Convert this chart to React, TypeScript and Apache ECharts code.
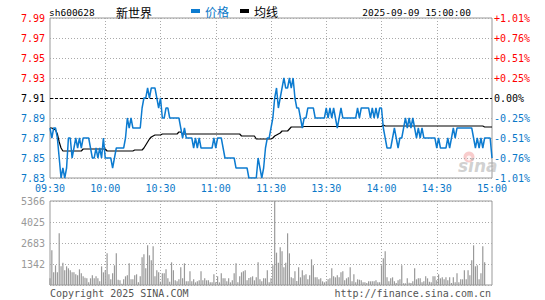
import React, { useEffect, useRef } from 'react';
import * as echarts from 'echarts';

const STOCK_CODE = 'sh600628';
const STOCK_NAME = '新世界';
const DATE_TEXT = '2025-09-09 15:00:00';
const PREV_CLOSE = 7.91;
const X_TICK_LABELS = ['09:30', '10:00', '10:30', '11:00', '11:30', '13:30', '14:00', '14:30', '15:00'];
const VOL_MAX = 5366;

// minute categories: 09:30..11:30, 13:01..15:00
const TIMES: string[] = [];
for (let m = 9 * 60 + 30; m <= 11 * 60 + 30; m++) TIMES.push(`${String(Math.floor(m / 60)).padStart(2, '0')}:${String(m % 60).padStart(2, '0')}`);
for (let m = 13 * 60 + 1; m <= 15 * 60; m++) TIMES.push(`${String(Math.floor(m / 60)).padStart(2, '0')}:${String(m % 60).padStart(2, '0')}`);

const PRICE = [
  7.88, 7.87, 7.88, 7.88, 7.87, 7.85, 7.83, 7.84, 7.83, 7.84,
  7.87, 7.87, 7.85, 7.86, 7.87, 7.86, 7.87, 7.86, 7.87, 7.87,
  7.87, 7.87, 7.86, 7.85, 7.85, 7.86, 7.85, 7.86, 7.85, 7.87,
  7.85, 7.85, 7.85, 7.85, 7.84, 7.85, 7.86, 7.86, 7.86, 7.86,
  7.86, 7.87, 7.89, 7.88, 7.89, 7.88, 7.88, 7.88, 7.88, 7.88,
  7.90, 7.91, 7.91, 7.92, 7.91, 7.92, 7.92, 7.92, 7.91, 7.90,
  7.91, 7.89, 7.89, 7.90, 7.90, 7.89, 7.89, 7.89, 7.89, 7.89,
  7.89, 7.88, 7.87, 7.88, 7.87, 7.87, 7.87, 7.87, 7.86, 7.87,
  7.86, 7.87, 7.86, 7.86, 7.86, 7.86, 7.86, 7.86, 7.86, 7.87,
  7.86, 7.87, 7.87, 7.87, 7.86, 7.85, 7.85, 7.85, 7.85, 7.85,
  7.85, 7.84, 7.84, 7.84, 7.84, 7.84, 7.84, 7.84, 7.83, 7.83,
  7.83, 7.83, 7.83, 7.85, 7.84, 7.83, 7.84, 7.86, 7.87, 7.87,
  7.88, 7.89, 7.91, 7.92, 7.90, 7.91, 7.92, 7.93, 7.92, 7.92,
  7.93, 7.92, 7.93, 7.91, 7.90, 7.90, 7.89, 7.88, 7.89, 7.89,
  7.90, 7.90, 7.90, 7.90, 7.89, 7.89, 7.89, 7.89, 7.89, 7.89,
  7.90, 7.89, 7.90, 7.89, 7.90, 7.89, 7.88, 7.89, 7.90, 7.89,
  7.89, 7.89, 7.89, 7.89, 7.89, 7.89, 7.89, 7.90, 7.89, 7.90,
  7.90, 7.90, 7.90, 7.90, 7.89, 7.90, 7.89, 7.90, 7.89, 7.90,
  7.90, 7.88, 7.87, 7.86, 7.86, 7.86, 7.87, 7.88, 7.87, 7.86,
  7.87, 7.87, 7.88, 7.89, 7.88, 7.89, 7.88, 7.89, 7.88, 7.87,
  7.88, 7.87, 7.88, 7.87, 7.87, 7.87, 7.87, 7.87, 7.87, 7.87,
  7.86, 7.87, 7.86, 7.86, 7.86, 7.86, 7.87, 7.86, 7.87, 7.88,
  7.87, 7.88, 7.88, 7.88, 7.88, 7.88, 7.88, 7.88, 7.88, 7.88,
  7.87, 7.86, 7.87, 7.86, 7.87, 7.86, 7.87, 7.87, 7.87, 7.87,
  7.85,
];

const AVG = [
  7.880, 7.880, 7.879, 7.878, 7.874, 7.866, 7.860, 7.857, 7.857, 7.857,
  7.857, 7.857, 7.857, 7.857, 7.857, 7.857, 7.857, 7.857, 7.859, 7.859,
  7.859, 7.859, 7.859, 7.859, 7.859, 7.859, 7.859, 7.859, 7.859, 7.859,
  7.859, 7.857, 7.857, 7.857, 7.857, 7.857, 7.857, 7.857, 7.857, 7.857,
  7.857, 7.857, 7.857, 7.857, 7.857, 7.857, 7.858, 7.858, 7.858, 7.858,
  7.858, 7.860, 7.863, 7.866, 7.869, 7.871, 7.872, 7.873, 7.873, 7.873,
  7.873, 7.874, 7.874, 7.874, 7.874, 7.874, 7.874, 7.874, 7.874, 7.874,
  7.876, 7.876, 7.874, 7.874, 7.874, 7.874, 7.874, 7.874, 7.874, 7.874,
  7.874, 7.874, 7.874, 7.874, 7.874, 7.874, 7.874, 7.874, 7.874, 7.874,
  7.874, 7.874, 7.874, 7.874, 7.874, 7.874, 7.874, 7.874, 7.874, 7.874,
  7.874, 7.874, 7.874, 7.874, 7.872, 7.872, 7.872, 7.872, 7.872, 7.872,
  7.872, 7.872, 7.869, 7.869, 7.869, 7.869, 7.869, 7.869, 7.869, 7.869,
  7.869, 7.870, 7.872, 7.873, 7.874, 7.875, 7.877, 7.877, 7.877, 7.877,
  7.879, 7.881, 7.881, 7.881, 7.881, 7.881, 7.881, 7.881, 7.8815, 7.8815,
  7.8815, 7.8815, 7.8815, 7.8815, 7.8815, 7.8815, 7.8815, 7.8815, 7.8815, 7.8815,
  7.8815, 7.8815, 7.8815, 7.8815, 7.8815, 7.8815, 7.8815, 7.8815, 7.8815, 7.8815,
  7.8815, 7.8815, 7.8815, 7.8815, 7.8815, 7.8815, 7.8815, 7.8815, 7.8815, 7.8815,
  7.8815, 7.8815, 7.8815, 7.8815, 7.8815, 7.8815, 7.8815, 7.8815, 7.8815, 7.8815,
  7.8815, 7.883, 7.882, 7.882, 7.882, 7.882, 7.882, 7.882, 7.882, 7.882,
  7.882, 7.882, 7.882, 7.882, 7.882, 7.882, 7.882, 7.882, 7.882, 7.882,
  7.882, 7.882, 7.882, 7.882, 7.882, 7.882, 7.882, 7.882, 7.882, 7.882,
  7.882, 7.882, 7.882, 7.882, 7.882, 7.882, 7.882, 7.882, 7.882, 7.882,
  7.882, 7.882, 7.882, 7.882, 7.882, 7.882, 7.882, 7.882, 7.882, 7.882,
  7.882, 7.882, 7.882, 7.882, 7.882, 7.882, 7.881, 7.881, 7.881, 7.881,
  7.881,
];

const VOLUME = [
  426, 2215, 809, 1257, 809, 3302, 1193, 1427, 937, 1193,
  1065, 937, 809, 809, 682, 618, 1001, 746, 554, 469,
  426, 170, 426, 618, 426, 554, 426, 234, 1193, 809,
  937, 2024, 682, 362, 746, 1257, 2024, 341, 298, 85,
  362, 554, 618, 1385, 362, 362, 618, 682, 170, 554,
  1768, 1960, 1065, 2535, 1896, 1576, 2471, 554, 937, 809,
  213, 746, 746, 1001, 426, 213, 1448, 937, 298, 234,
  362, 1129, 426, 1385, 234, 234, 873, 234, 362, 170,
  234, 298, 873, 298, 426, 298, 298, 170, 170, 682,
  170, 554, 170, 746, 426, 426, 234, 426, 170, 298,
  746, 1385, 170, 554, 809, 873, 937, 298, 447, 490,
  554, 298, 490, 1448, 362, 234, 426, 426, 937, 170,
  426, 1257, 5366, 2066, 1427, 2407, 2151, 1129, 1427, 3302,
  2024, 490, 426, 873, 256, 1129, 490, 937, 618, 682,
  362, 618, 1640, 1257, 490, 490, 362, 426, 234, 170,
  234, 362, 426, 1065, 554, 490, 618, 490, 809, 873,
  298, 426, 490, 1129, 234, 682, 170, 362, 341, 298,
  170, 170, 128, 234, 234, 234, 234, 298, 170, 170,
  1257, 1704, 2151, 490, 234, 426, 490, 234, 128, 298,
  362, 1257, 107, 107, 426, 149, 128, 234, 1065, 362,
  426, 426, 170, 234, 554, 426, 213, 170, 554, 554,
  298, 682, 426, 490, 362, 490, 298, 490, 128, 490,
  170, 746, 170, 362, 362, 937, 362, 937, 618, 1576,
  2535, 1193, 1257, 362, 746, 2471, 1448, 0, 0, 0,
  0,
];

const UP = '#ff0000';
const DOWN = '#0a78c8';
const FLAT = '#000000';
const LINE_BLUE = '#0c7bd0';
const GRID_GRAY = '#aaaaaa';
const MONO = 'DejaVu Sans Mono';
const CJK = 'Noto Sans CJK SC';

const base = PREV_CLOSE * 100;
const priceData = PRICE.map((p) => +(p * 100 - base).toFixed(3));
const avgData = AVG.map((p) => +(p * 100 - base).toFixed(3));

const signColor = (v: any) => {
  const n = Number(v);
  return n > 0.0001 ? UP : n < -0.0001 ? DOWN : FLAT;
};
const isTick = (idx: number) => X_TICK_LABELS.indexOf(TIMES[idx]) >= 0;
const isInnerTick = (idx: number) => isTick(idx) && idx > 0 && idx < TIMES.length - 1;

export default function App() {
  const ref = useRef<HTMLDivElement>(null);
  useEffect(() => {
    document.body.style.margin = '0';
    const chart = echarts.init(ref.current!, null, { renderer: 'svg' });
    const dotted = { color: GRID_GRAY, type: [1, 2] as any, width: 1 };
    chart.setOption({
      animation: false,
      textStyle: { fontFamily: MONO },
      grid: [
        { left: 50, top: 18, width: 442, height: 160, show: true, borderColor: '#999', borderWidth: 1 },
        { left: 50, top: 201, width: 442, height: 84, show: true, borderColor: '#999', borderWidth: 1 },
      ],
      legend: {
        left: 191,
        top: 5,
        padding: 0,
        icon: 'rect',
        itemWidth: 9,
        itemHeight: 4,
        itemGap: 11,
        textStyle: { fontSize: 12, fontFamily: CJK },
        data: [
          { name: '价格', textStyle: { color: DOWN } },
          { name: '均线', textStyle: { color: FLAT } },
        ],
      },
      xAxis: [
        {
          type: 'category',
          gridIndex: 0,
          data: TIMES,
          boundaryGap: false,
          axisLine: { show: false },
          axisTick: { show: false },
          axisLabel: {
            interval: (idx: number) => isTick(idx),
            color: DOWN,
            fontSize: 10,
            fontFamily: MONO,
            margin: 5,
          },
          splitLine: { show: true, interval: (idx: number) => isInnerTick(idx), lineStyle: dotted },
        },
        {
          type: 'category',
          gridIndex: 1,
          data: TIMES,
          boundaryGap: false,
          axisLine: { show: false },
          axisTick: { show: false },
          axisLabel: { show: false },
          splitLine: { show: true, interval: (idx: number) => isInnerTick(idx), lineStyle: dotted },
        },
      ],
      yAxis: [
        {
          type: 'value',
          gridIndex: 0,
          position: 'left',
          min: -8,
          max: 8,
          interval: 2,
          axisLine: { show: false },
          axisTick: { show: false },
          axisLabel: {
            formatter: (v: number) => (PREV_CLOSE + v / 100).toFixed(2),
            color: signColor,
            fontSize: 10,
            fontFamily: MONO,
            margin: 5,
          },
          splitLine: { show: true, lineStyle: dotted },
        },
        {
          type: 'value',
          gridIndex: 0,
          position: 'right',
          min: -8,
          max: 8,
          interval: 2,
          axisLine: { show: false },
          axisTick: { show: false },
          axisLabel: {
            formatter: (v: number) => (v > 0 ? '+' : '') + (v / PREV_CLOSE).toFixed(2) + '%',
            color: signColor,
            fontSize: 10,
            fontFamily: MONO,
            margin: 2,
          },
          splitLine: { show: false },
        },
        {
          type: 'value',
          gridIndex: 1,
          min: 0,
          max: VOL_MAX,
          interval: VOL_MAX / 4,
          axisLine: { show: false },
          axisTick: { show: false },
          axisLabel: {
            formatter: (v: number) => (v === 0 ? '' : String(Math.round(v))),
            color: '#999',
            fontSize: 10,
            fontFamily: MONO,
            margin: 5,
          },
          splitLine: { show: true, lineStyle: dotted },
        },
      ],
      graphic: [
        { type: 'text', x: 49, y: 12, z: 10, style: { text: STOCK_CODE, fontSize: 9.5, fontFamily: MONO, fill: '#000', verticalAlign: 'middle' } },
        { type: 'text', x: 116, y: 12, z: 10, style: { text: STOCK_NAME, fontSize: 12, fontFamily: CJK, fill: '#000', verticalAlign: 'middle' } },
        { type: 'text', x: 471, y: 12, z: 10, style: { text: DATE_TEXT, fontSize: 9.5, fontFamily: MONO, fill: '#000', align: 'right', verticalAlign: 'middle' } },
        { type: 'text', x: 50, y: 293, z: 10, style: { text: 'Copyright 2025 SINA.COM', fontSize: 10, fontFamily: MONO, fill: '#555', verticalAlign: 'middle' } },
        { type: 'text', x: 491, y: 293, z: 10, style: { text: 'http://finance.sina.com.cn', fontSize: 10, fontFamily: MONO, fill: '#555', align: 'right', verticalAlign: 'middle' } },
        { type: 'circle', z: 0, shape: { cx: 469, cy: 157, r: 5.5 }, style: { fill: 'rgba(235,110,110,0.35)' } },
        { type: 'circle', z: 0, shape: { cx: 469, cy: 158, r: 2.5 }, style: { fill: 'rgba(255,255,255,0.8)' } },
        { type: 'text', x: 458, y: 166, z: 0, style: { text: 'sina', fontSize: 17, fontStyle: 'italic', fontWeight: 'bold', fontFamily: 'DejaVu Sans', fill: 'rgba(170,170,170,0.55)', verticalAlign: 'middle' } },
      ],
      series: [
        {
          name: '价格',
          type: 'line',
          xAxisIndex: 0,
          yAxisIndex: 0,
          data: priceData,
          color: LINE_BLUE,
          showSymbol: false,
          lineStyle: { width: 1.5, color: LINE_BLUE },
          z: 5,
          markLine: {
            silent: true,
            symbol: ['none', 'none'],
            label: { show: false },
            lineStyle: { color: '#000', type: [3, 2], width: 1 },
            data: [{ yAxis: 0 }],
          },
        },
        {
          name: '均线',
          type: 'line',
          xAxisIndex: 0,
          yAxisIndex: 0,
          data: avgData,
          color: '#000',
          showSymbol: false,
          lineStyle: { width: 1.2, color: '#000' },
          z: 4,
        },
        {
          name: '成交量',
          type: 'bar',
          xAxisIndex: 1,
          yAxisIndex: 2,
          data: VOLUME,
          color: '#999',
          barWidth: 1.2,
        },
      ],
    });
    return () => chart.dispose();
  }, []);
  return <div ref={ref} style={{ width: 545, height: 300 }} />;
}
